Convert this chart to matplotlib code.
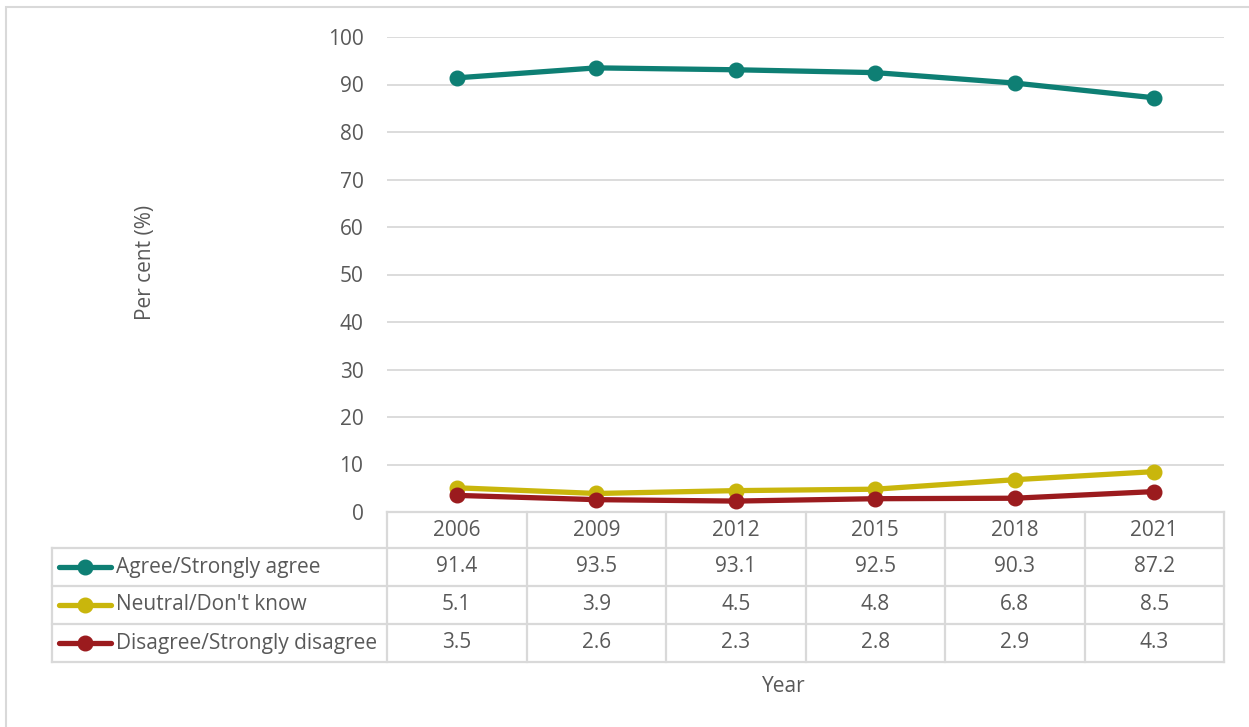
import numpy as np
import matplotlib.pyplot as plt
from matplotlib.lines import Line2D
from matplotlib.patches import Rectangle
import matplotlib.transforms as mtransforms

years = ['2006', '2009', '2012', '2015', '2018', '2021']
agree = [91.4, 93.5, 93.1, 92.5, 90.3, 87.2]
neutral = [5.1, 3.9, 4.5, 4.8, 6.8, 8.5]
disagree = [3.5, 2.6, 2.3, 2.8, 2.9, 4.3]
series_names = ['Agree/Strongly agree', 'Neutral/Don\'t know', 'Disagree/Strongly disagree']
colors = ['#0E7F74', '#C9B60C', '#9B1B1E']

W, H = 1249, 727
TXT = '#595959'
GRID = '#D9D9D9'
FS = 15
plt.rcParams['font.family'] = ['Open Sans', 'DejaVu Sans']


def fx(px):
    return px / W


def fy(py):
    return 1 - py / H


def plot_chart():
    fig = plt.figure(figsize=(W / 100, H / 100), dpi=100)
    left, right, top, bottom = 387, 1224, 37, 512
    ax = fig.add_axes([fx(left), fy(bottom), fx(right - left), (bottom - top) / H])

    x = np.arange(len(years))
    for vals, c in zip([agree, neutral, disagree], colors):
        ax.plot(x, vals, color=c, lw=3.8, marker='o', ms=10.5, solid_capstyle='round', zorder=3)

    ax.set_xlim(-0.5, len(years) - 0.5)
    ax.set_ylim(0, 100)
    ax.set_yticks(np.arange(0, 101, 10))
    ax.set_xticks([])
    ax.grid(axis='y', color=GRID, lw=1.3)
    ax.set_axisbelow(True)
    for s in ax.spines.values():
        s.set_visible(False)
    ax.tick_params(axis='y', length=0, pad=17, labelsize=FS, labelcolor=TXT)

    # data table under the axis
    row_h = 38
    head_h = 36
    tb_left = 52
    ylines = [bottom, bottom + head_h] + [bottom + head_h + row_h * (i + 1) for i in range(3)]
    lkw = dict(color=GRID, lw=1.6, transform=fig.transFigure, zorder=1)
    fig.add_artist(Line2D([fx(left), fx(right)], [fy(bottom)] * 2, **lkw))
    for yl in ylines[1:]:
        fig.add_artist(Line2D([fx(tb_left), fx(right)], [fy(yl)] * 2, **lkw))
    col_w = (right - left) / len(years)
    for i in range(len(years) + 1):
        xp = left + i * col_w
        fig.add_artist(Line2D([fx(xp)] * 2, [fy(bottom), fy(ylines[-1])], **lkw))
    fig.add_artist(Line2D([fx(tb_left)] * 2, [fy(ylines[1]), fy(ylines[-1])], **lkw))

    trans = mtransforms.blended_transform_factory(ax.transData, fig.transFigure)
    for i, yr in enumerate(years):
        ax.text(i, fy(bottom + head_h / 2), yr, transform=trans, ha='center', va='center',
                fontsize=FS, color=TXT, clip_on=False)
    for r, (name, vals, c) in enumerate(zip(series_names, [agree, neutral, disagree], colors)):
        yc = fy(ylines[r + 1] + row_h / 2)
        for i, v in enumerate(vals):
            ax.text(i, yc, f'{v:.1f}', transform=trans, ha='center', va='center',
                    fontsize=FS, color=TXT, clip_on=False)
        fig.add_artist(Line2D([fx(59), fx(111)], [yc] * 2, color=c, lw=3.8,
                              solid_capstyle='round', transform=fig.transFigure))
        fig.add_artist(Line2D([fx(85)], [yc], color=c, marker='o', ms=10.5, ls='',
                              transform=fig.transFigure))
        fig.text(fx(116), yc, name, ha='left', va='center', fontsize=FS, color=TXT)

    fig.text(fx(145), fy(262), 'Per cent (%)', rotation=90, ha='center',
             va='center', fontsize=FS, color=TXT)
    fig.text(fx(784), fy(686), 'Year', ha='center', va='center', fontsize=FS, color=TXT)

    # outer chart frame
    fig.add_artist(Rectangle((fx(6), fy(760)), fx(1300), (760 - 7) / H, fill=False,
                             ec=GRID, lw=1.5, transform=fig.transFigure))
    fig.savefig('out.png', dpi=100)


if __name__ == '__main__':
    plot_chart()
